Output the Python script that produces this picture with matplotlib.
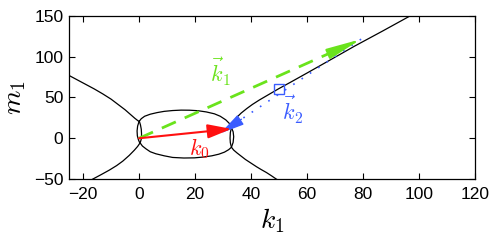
import matplotlib
matplotlib.use("Agg")
import matplotlib.pyplot as plt
import numpy as np

plt.rcParams["font.family"] = ["Liberation Sans", "DejaVu Sans"]
plt.rcParams["mathtext.fontset"] = "cm"

#%% curve points (k1, m1)
left_k = [-26, -25, -22, -19, -16, -13, -10, -7.5, -5, -3, -1.5, 0,
          -0.5, -0.7, -0.6, -0.2, 0.3,
          -0.5, -1.7, -3.5, -5.8, -8, -10.6, -13.5, -16.5, -17]
left_m = [79, 77, 71.5, 66, 60.5, 54.5, 48, 41.5, 35, 29, 24.5, 20.5,
          15, 9, 3, -2, -6,
          -10, -14.7, -21, -28, -33.5, -39, -44.5, -50, -51]

oval_k = [0.1, 0.8, 2, 4, 6.5, 9, 12, 15, 18, 21, 24, 26.9, 29, 31, 32.3,
          33, 33.6, 33.8, 33.6, 33,
          32, 30.5, 28.5, 26, 23, 19.8, 16, 12, 9, 6, 4, 2.5, 1.2, 0.4,
          0.8, 0.9, 0.8, 0.5, 0.1]
oval_m = [21, 24, 27, 29.5, 31.5, 33, 34, 34.5, 34.4, 33.8, 32.3, 30, 27,
          22.5, 18, 13, 8, 2, -5, -11,
          -14, -17, -19.5, -21.5, -23, -24, -24.2, -23.5, -21.5, -19,
          -16.5, -13, -9.5, -5.7,
          -1, 5, 11, 16.5, 21]

right_k = [98, 96.8, 87, 77, 68, 60, 54, 50, 46.5, 43, 40.5, 38.5, 36.5,
           35, 34, 33.3, 33, 32.6, 32.5, 32.6, 33,
           33.8, 35, 36.5, 38, 40, 42, 43.7, 45.5, 47.3, 49, 49.5]
right_m = [152, 150, 131.5, 113, 95.5, 80, 68.5, 61, 54, 47, 41.5, 36.5,
           31, 26, 21, 16.5, 13, 7, 0, -5.5, -11,
           -14.5, -18, -22, -26, -30.5, -35, -38.5, -42, -46, -50, -51]

# vectors
k0 = (33, 11.5)
k1 = (79.3, 121.5)
k2_start = (79.3, 121.5)
k2_end = (29, 6)
k2_mark = (50, 61)

red = "#ff1010"
green = "#6ae31c"
blue = "#3a5cff"

#%%
fig = plt.figure(figsize=(4.98, 2.41), dpi=100)
ax = fig.add_axes([0.1386, 0.257, 0.8154, 0.677])

ax.plot(left_k, left_m, c="k", lw=0.9)
ax.plot(oval_k, oval_m, c="k", lw=0.9)
ax.plot(right_k, right_m, c="k", lw=0.9)

# k1, green dashed
ax.plot([0, k1[0]*0.93], [0, k1[1]*0.93], c=green, lw=2, ls=(0, (5.5, 3.5)))
ax.annotate("", xy=k1, xytext=(k1[0]*0.9, k1[1]*0.9),
            arrowprops=dict(arrowstyle="-|>,head_length=2.1,head_width=0.32",
                            color=green, lw=1.5, shrinkA=0, shrinkB=0))

# k2, blue dotted
ax.plot([k2_start[0], k2_end[0]], [k2_start[1], k2_end[1]], c=blue, lw=1.2,
        ls=(0, (1, 5)))
ax.annotate("", xy=k2_end, xytext=(k2_end[0]+0.15*(k2_start[0]-k2_end[0]),
                                   k2_end[1]+0.15*(k2_start[1]-k2_end[1])),
            arrowprops=dict(arrowstyle="-|>,head_length=1.5,head_width=0.35",
                            color=blue, lw=1, shrinkA=0, shrinkB=0))
ax.plot(k2_mark[0], k2_mark[1], marker="s", ms=7, mfc="none", mec=blue, mew=1)

# k0, red
ax.annotate("", xy=k0, xytext=(0, 0),
            arrowprops=dict(arrowstyle="-|>,head_length=1.45,head_width=0.43",
                            color=red, lw=1.5, shrinkA=0, shrinkB=0))

ax.text(29, 81, r"$\vec{k}_1$", color=green, fontsize=16, ha="center", va="center")
ax.text(21.5, -13, r"$k_0$", color=red, fontsize=16, ha="center", va="center")
ax.text(55, 35, r"$\vec{k}_2$", color=blue, fontsize=16, ha="center", va="center")

ax.set_xlim([-25, 120])
ax.set_ylim([-50, 150])
ax.set_xticks(np.arange(-20, 121, 20))
ax.set_yticks(np.arange(-50, 151, 50))
ax.tick_params(direction="in", top=True, right=True, labelsize=12.5, length=4,
               width=0.8)
ax.tick_params(axis="x", pad=6)
ax.tick_params(axis="y", pad=4)
for s in ax.spines.values():
    s.set_linewidth(0.9)
ax.set_xlabel(r"$k_1$", fontsize=20, labelpad=3)
ax.set_ylabel(r"$m_1$", fontsize=20, labelpad=4)

plt.savefig("out.png", dpi=100)
